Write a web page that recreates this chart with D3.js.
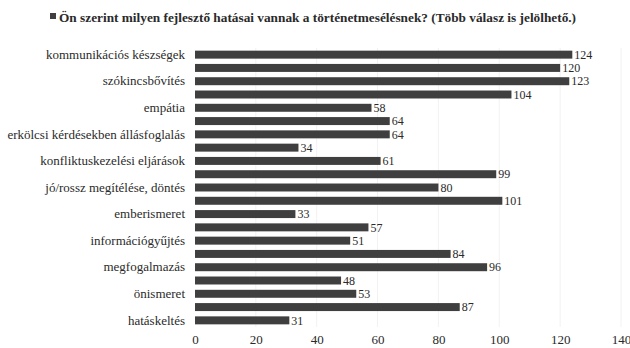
<!DOCTYPE html>
<html>
<head>
<meta charset="utf-8">
<script src="https://cdn.jsdelivr.net/npm/d3@7"></script>
<style>
  html, body { margin: 0; padding: 0; background: #fff; }
  svg { display: block; }
</style>
</head>
<body>
<svg id="chart" width="630" height="348"></svg>
<script>
// Survey answers, one bar per option (only every other option name is printed on the axis)
const values = [124, 120, 123, 104, 58, 64, 64, 34, 61, 99, 80, 101, 33, 57, 51, 84, 96, 48, 53, 87, 31];
const tickLabels = [
  "kommunikációs készségek", "",
  "szókincsbővítés", "",
  "empátia", "",
  "erkölcsi kérdésekben állásfoglalás", "",
  "konfliktuskezelési eljárások", "",
  "jó/rossz megítélése, döntés", "",
  "emberismeret", "",
  "információgyűjtés", "",
  "megfogalmazás", "",
  "önismeret", "",
  "hatáskeltés"
];
const xTicks = [0, 20, 40, 60, 80, 100, 120, 140];
const title = "Ön szerint milyen fejlesztő hatásai vannak a történetmesélésnek? (Több válasz is jelölhető.)";

const FONT = "'Liberation Serif', 'DejaVu Serif', 'Times New Roman', serif";
const INK = "#2a2a2a";

const svg = d3.select("#chart");
const margin = { left: 195, right: 9, top: 48, bottom: 21 };
const W = 630, H = 348;

const x = d3.scaleLinear().domain([0, 140]).range([margin.left, W - margin.right]);
const y = d3.scaleBand()
  .domain(d3.range(values.length))
  .range([margin.top, H - margin.bottom])
  .paddingInner(0.4)
  .paddingOuter(0.2);

// faint vertical gridlines
svg.append("g")
  .selectAll("line")
  .data(xTicks.slice(1))
  .join("line")
  .attr("x1", d => x(d)).attr("x2", d => x(d))
  .attr("y1", margin.top).attr("y2", H - margin.bottom)
  .attr("stroke", "#f2f2f2")
  .attr("stroke-width", 1);

// bars
svg.append("g")
  .selectAll("rect")
  .data(values)
  .join("rect")
  .attr("x", x(0))
  .attr("y", (d, i) => y(i))
  .attr("width", d => x(d) - x(0))
  .attr("height", y.bandwidth())
  .attr("fill", "#3f3f3f");

// value labels
svg.append("g")
  .selectAll("text")
  .data(values)
  .join("text")
  .attr("x", d => x(d) + 2)
  .attr("y", (d, i) => y(i) + y.bandwidth() / 2)
  .attr("dy", "0.35em")
  .style("font-family", FONT)
  .style("font-size", "12px")
  .style("fill", INK)
  .text(d => d);

// category axis
const yAxis = d3.axisLeft(y)
  .tickSize(0)
  .tickPadding(10)
  .tickFormat(i => tickLabels[i]);
const gy = svg.append("g")
  .attr("transform", `translate(${margin.left},0)`)
  .call(yAxis);
gy.select(".domain").remove();
gy.selectAll("text")
  .style("font-family", FONT)
  .style("font-size", "13px")
  .style("fill", INK);

// value axis
const xAxis = d3.axisBottom(x)
  .tickValues(xTicks)
  .tickSize(0)
  .tickPadding(8);
const gx = svg.append("g")
  .attr("transform", `translate(0,${H - margin.bottom})`)
  .call(xAxis);
gx.select(".domain").remove();
gx.selectAll("text")
  .style("font-family", FONT)
  .style("font-size", "13px")
  .style("fill", INK);

// legend-style title
const tg = svg.append("g").attr("transform", "translate(50,17)");
tg.append("rect")
  .attr("x", 0).attr("y", -4)
  .attr("width", 6).attr("height", 6)
  .attr("fill", "#3f3f3f");
tg.append("text")
  .attr("x", 9)
  .attr("y", 0)
  .attr("dy", "0.35em")
  .style("font-family", FONT)
  .style("font-size", "13.3px")
  .style("font-weight", "bold")
  .style("fill", INK)
  .text(title);
</script>
</body>
</html>
